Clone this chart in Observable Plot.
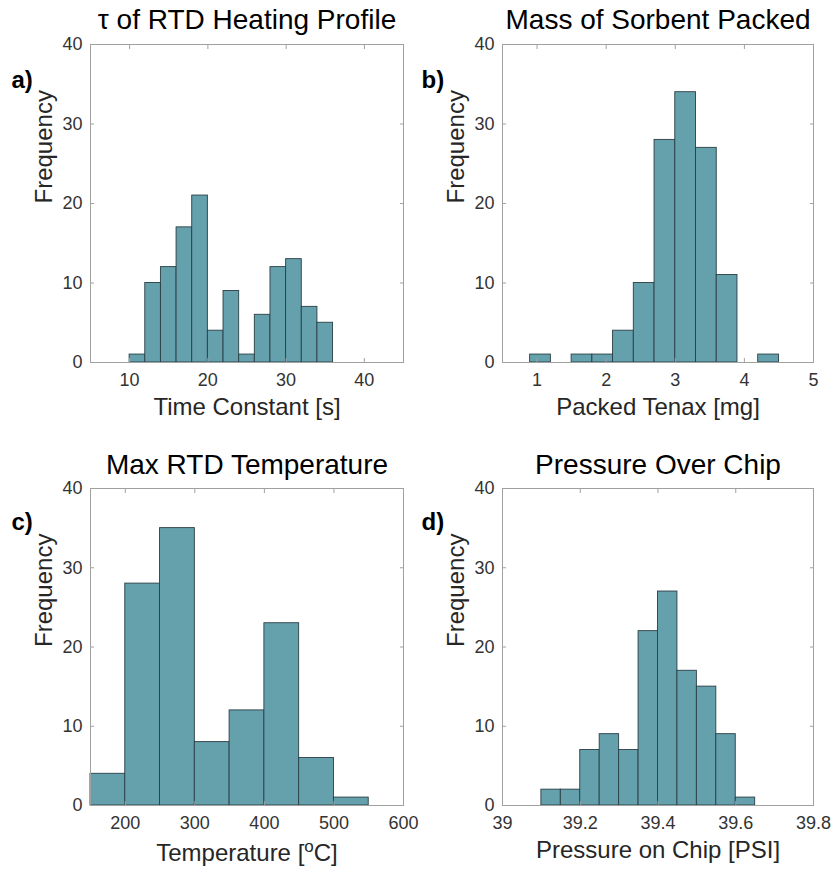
<!DOCTYPE html>
<html><head><meta charset="utf-8">
<script src="https://cdn.jsdelivr.net/npm/d3@7"></script>
<script src="https://cdn.jsdelivr.net/npm/@observablehq/plot@0.6"></script>
<style>
body{margin:0;background:#fff;}
#wrap{position:relative;width:835px;height:873px;font-family:"Liberation Sans",Arial,Helvetica,sans-serif;}
#wrap svg{position:absolute;overflow:visible;}
</style></head><body><div id="wrap"></div>
<script>
const yTicks = [0, 10, 20, 30, 40];

// a) time constant
const tauEdges = [10, 12, 14, 16, 18, 20, 22, 24, 26, 28, 30, 32, 34, 36];
const tauCounts = [1, 10, 12, 17, 21, 4, 9, 1, 6, 12, 13, 7, 5];
const tauTicks = [10, 20, 30, 40];

// b) packed tenax
const massEdges = [0.9, 1.2, 1.5, 1.8, 2.1, 2.4, 2.7, 3.0, 3.3, 3.6, 3.9, 4.2, 4.5];
const massCounts = [1, 0, 1, 1, 4, 10, 28, 34, 27, 11, 0, 1];
const massTicks = [1, 2, 3, 4, 5];

// c) max temperature
const tempEdges = [150, 200, 250, 300, 350, 400, 450, 500, 550];
const tempCounts = [4, 28, 35, 8, 12, 23, 6, 1];
const tempTicks = [200, 300, 400, 500, 600];

// d) pressure
const presEdges = [39.1, 39.15, 39.2, 39.25, 39.3, 39.35, 39.4, 39.45, 39.5, 39.55, 39.6, 39.65];
const presCounts = [2, 2, 7, 9, 7, 22, 27, 17, 15, 9, 1];
const presTicks = [39, 39.2, 39.4, 39.6, 39.8];

const FILL = "#65a0ad", EDGE = "#2b3e44", BOX = "#a0a0a0", TXT = "#262626";
const fmt = d => String(d);

function panel(cfg) {
  const bins = cfg.edges.slice(0, -1).map((e, i) => ({x1: e, x2: cfg.edges[i + 1], y: cfg.counts[i]}));
  const svg = Plot.plot({
    width: cfg.width, height: cfg.height,
    marginLeft: cfg.ml, marginRight: cfg.mr, marginTop: cfg.mt, marginBottom: cfg.mb,
    style: {fontFamily: '"Liberation Sans", Arial, Helvetica, sans-serif', background: "transparent", overflow: "visible"},
    x: {domain: cfg.xdomain},
    y: {domain: [0, 40]},
    marks: [
      Plot.rectY(bins, {x1: "x1", x2: "x2", y: "y", fill: FILL, stroke: EDGE, strokeWidth: 0.9}),
      Plot.frame({stroke: BOX, strokeWidth: 1}),
      Plot.axisX(cfg.xticks, {anchor: "bottom", tickSize: 0, tickPadding: 11, fontSize: 18, fill: "#333", tickFormat: fmt, label: null}),
      Plot.axisX(cfg.xticks, {anchor: "bottom", tickSize: -4, tickFormat: () => "", stroke: BOX, label: null}),
      Plot.axisX(cfg.xticks, {anchor: "top", tickSize: -4, tickFormat: () => "", stroke: BOX, label: null}),
      Plot.axisY(yTicks, {anchor: "left", tickSize: 0, tickPadding: 8, fontSize: 18, fill: "#333", tickFormat: fmt, label: null}),
      Plot.axisY(yTicks, {anchor: "left", tickSize: -4, tickFormat: () => "", stroke: BOX, label: null}),
      Plot.axisY(yTicks, {anchor: "right", tickSize: -4, tickFormat: () => "", stroke: BOX, label: null}),
      Plot.text([cfg.title], {frameAnchor: "top", dy: cfg.titleDy, lineAnchor: "middle", fontSize: 28, fill: "#000"}),
      Plot.text([cfg.xlabel], {frameAnchor: "bottom", dy: cfg.xlabDy, lineAnchor: "middle", fontSize: 24, fill: TXT}),
      Plot.text(["Frequency"], {frameAnchor: "left", dx: -46, rotate: -90, lineAnchor: "middle", fontSize: 24, fill: TXT}),
      Plot.text([cfg.tag], {frameAnchor: "top-left", dx: cfg.tagDx, dy: cfg.tagDy, textAnchor: "start", lineAnchor: "middle", fontSize: 24, fontWeight: "bold", fill: "#000"})
    ]
  });
  svg.style.left = cfg.left + "px";
  svg.style.top = cfg.top + "px";
  document.getElementById("wrap").appendChild(svg);
  return svg;
}

panel({left: 0, top: 0, width: 417, height: 436, ml: 90, mr: 14, mt: 44, mb: 74,
  edges: tauEdges, counts: tauCounts, xdomain: [5, 45], xticks: tauTicks,
  title: "τ of RTD Heating Profile", titleDy: -24, xlabel: "Time Constant [s]", xlabDy: 45,
  tag: "a)", tagDx: -79, tagDy: 36});

panel({left: 417, top: 0, width: 418, height: 436, ml: 85, mr: 22, mt: 44, mb: 74,
  edges: massEdges, counts: massCounts, xdomain: [0.5, 5], xticks: massTicks,
  title: "Mass of Sorbent Packed", titleDy: -24, xlabel: "Packed Tenax [mg]", xlabDy: 45,
  tag: "b)", tagDx: -81, tagDy: 36});

const pc = panel({left: 0, top: 436, width: 417, height: 437, ml: 90, mr: 14, mt: 52, mb: 68,
  edges: tempEdges, counts: tempCounts, xdomain: [150, 600], xticks: tempTicks,
  title: "Max RTD Temperature", titleDy: -23, xlabel: "Temperature [oC]", xlabDy: 48,
  tag: "c)", tagDx: -79, tagDy: 34});

panel({left: 417, top: 436, width: 418, height: 437, ml: 85, mr: 22, mt: 52, mb: 68,
  edges: presEdges, counts: presCounts, xdomain: [39, 39.8], xticks: presTicks,
  title: "Pressure Over Chip", titleDy: -23, xlabel: "Pressure on Chip [PSI]", xlabDy: 45,
  tag: "d)", tagDx: -81, tagDy: 34});

// superscript "o" in the temperature label
pc.querySelectorAll("text").forEach(t => {
  if (t.textContent === "Temperature [oC]") {
    const ns = "http://www.w3.org/2000/svg";
    t.textContent = "";
    const a = document.createElementNS(ns, "tspan"); a.textContent = "Temperature [";
    const o = document.createElementNS(ns, "tspan"); o.textContent = "o";
    o.setAttribute("dy", "-9"); o.setAttribute("font-size", "17");
    const c = document.createElementNS(ns, "tspan"); c.textContent = "C]"; c.setAttribute("dy", "9");
    t.append(a, o, c);
  }
});
</script></body></html>
